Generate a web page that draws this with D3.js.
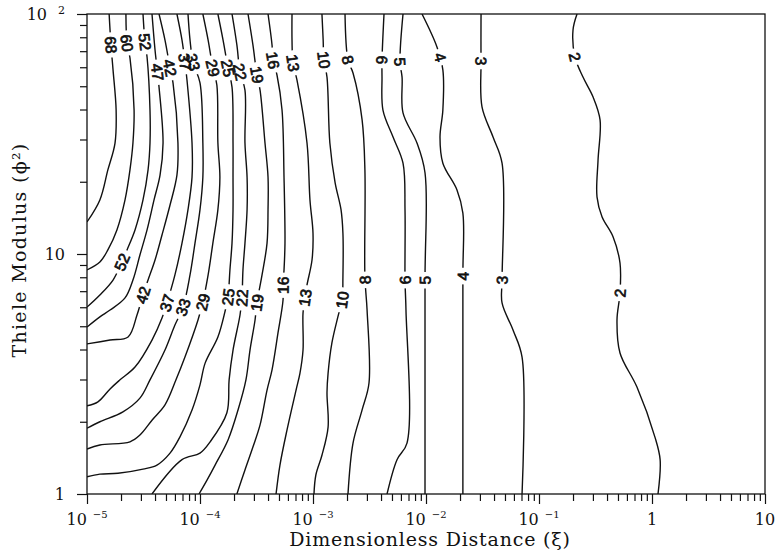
<!DOCTYPE html>
<html>
<head>
<meta charset="utf-8">
<script src="https://cdn.jsdelivr.net/npm/d3@7"></script>
<style>
  body { margin: 0; background: #fff; }
  svg { display: block; }
  .tick line { stroke: #111; stroke-width: 1.2; }
  .domain { display: none; }
  .tick-label { font-family: "DejaVu Serif", serif; font-size: 16px; fill: #111; }
  .axis-title { font-family: "DejaVu Serif", serif; font-size: 19px; fill: #111; }
  .contour { fill: none; stroke: #111; stroke-width: 1.4; }
  .clabel { font-family: "Liberation Sans", Arial, sans-serif; font-size: 15.5px; fill: #111; stroke: #111; stroke-width: 0.7; }
</style>
</head>
<body>
<svg id="chart" width="776" height="554"></svg>
<script>
// contour levels, top-left to right
const levels = [68, 60, 52, 47, 42, 37, 33, 29, 25, 22, 19, 16, 13, 10, 8, 6, 5, 4, 3, 2];

// each contour: [xi, phi^2] points, from top edge downwards
const contours = [
  [[1.57e-5,100],[1.63e-5,74.3],[1.70e-5,58.5],[1.81e-5,39.8],[1.77e-5,29.0],[1.53e-5,22.4],[1.30e-5,16.8],[1e-5,13.6]],
  [[2.21e-5,100],[2.26e-5,75.7],[2.40e-5,65.6],[2.61e-5,39.8],[2.55e-5,29.0],[2.40e-5,22.4],[2.17e-5,16.8],[1.84e-5,12.6],[1.53e-5,10.4],[1.30e-5,9.26],[1e-5,8.58]],
  [[3.13e-5,100],[3.26e-5,76.4],[3.40e-5,66.2],[3.61e-5,39.8],[3.61e-5,29.0],[3.47e-5,22.4],[3.13e-5,16.8],[2.66e-5,12.6],[2.26e-5,10.4],[2.04e-5,9.26],[1.70e-5,7.79],[1.30e-5,6.75],[1e-5,6.01]],
  [[3.76e-5,100],[4.0e-5,70.8],[4.34e-5,49.6],[4.71e-5,29.0],[4.43e-5,21.3],[3.92e-5,16.8],[3.40e-5,12.6],[2.94e-5,9.9],[2.55e-5,7.79],[2.17e-5,6.56],[1.60e-5,5.84],[1.30e-5,5.47],[1e-5,4.96]],
  [[4.34e-5,100],[4.90e-5,77.9],[5.43e-5,59.6],[5.77e-5,51.6],[6.38e-5,29.0],[6.25e-5,21.3],[5.43e-5,16.0],[4.61e-5,12.0],[4.0e-5,9.44],[3.47e-5,7.79],[3.13e-5,6.75],[2.77e-5,5.57],[2.31e-5,4.51],[1.60e-5,4.38],[1e-5,4.22]],
  [[6.25e-5,100],[6.93e-5,77.9],[7.36e-5,63.1],[7.67e-5,53.1],[8.50e-5,29.0],[8.50e-5,20.9],[7.83e-5,15.3],[6.93e-5,11.1],[6.0e-5,8.18],[5.10e-5,6.25],[4.61e-5,5.41],[3.76e-5,4.38],[2.66e-5,3.38],[1.96e-5,2.99],[1.60e-5,2.74],[1.25e-5,2.42],[1e-5,2.33]],
  [[7.83e-5,100],[8.16e-5,77.9],[8.67e-5,63.1],[1.0e-4,51.6],[1.06e-4,29.0],[1.06e-4,20.9],[1.0e-4,15.3],[9.03e-5,11.1],[8.16e-5,8.18],[7.08e-5,6.01],[6.0e-5,5.06],[4.90e-5,3.98],[3.61e-5,2.99],[2.94e-5,2.51],[2.08e-5,2.20],[1.30e-5,2.0],[1e-5,1.88]],
  [[1.06e-4,100],[1.18e-4,77.9],[1.30e-4,59.6],[1.41e-4,50.6],[1.44e-4,29.0],[1.50e-4,20.9],[1.44e-4,15.3],[1.30e-4,11.1],[1.18e-4,8.18],[1.06e-4,6.31],[9.60e-5,5.31],[7.36e-5,3.72],[6.13e-5,2.99],[4.90e-5,2.35],[3.76e-5,2.03],[2.94e-5,1.76],[2.40e-5,1.65],[1.30e-5,1.60],[1e-5,1.54]],
  [[1.44e-4,100],[1.60e-4,77.9],[1.77e-4,59.6],[1.92e-4,49.6],[1.96e-4,29.0],[1.96e-4,20.9],[1.96e-4,15.3],[1.92e-4,11.1],[1.84e-4,8.58],[1.77e-4,6.62],[1.66e-4,5.73],[1.44e-4,4.51],[1.11e-4,3.51],[1.0e-4,2.85],[8.50e-5,2.24],[6.65e-5,1.73],[5.43e-5,1.48],[4.16e-5,1.32],[3.13e-5,1.27],[1.88e-5,1.22],[1.30e-5,1.21],[1e-5,1.18]],
  [[1.92e-4,100],[2.12e-4,74.3],[2.26e-4,57.3],[2.50e-4,48.2],[2.50e-4,29.0],[2.61e-4,20.9],[2.61e-4,15.3],[2.50e-4,11.1],[2.40e-4,8.58],[2.35e-4,6.56],[2.26e-4,5.57],[1.96e-4,3.98],[1.81e-4,2.99],[1.73e-4,2.18],[1.23e-4,1.65],[1.0e-4,1.48],[6.93e-5,1.39],[3.76e-5,1]],
  [[2.66e-4,100],[2.94e-4,74.3],[3.19e-4,55.7],[3.40e-4,48.2],[3.76e-4,29.0],[4.0e-4,20.9],[4.0e-4,15.3],[3.92e-4,11.1],[3.54e-4,8.18],[3.19e-4,6.25],[3.07e-4,5.31],[2.77e-4,3.98],[2.55e-4,2.99],[2.17e-4,2.24],[1.77e-4,1.68],[1.36e-4,1.32],[1.15e-4,1.14],[9.8e-5,1]],
  [[4.0e-4,100],[4.34e-4,74.3],[4.43e-4,64.3],[4.80e-4,55.7],[5.32e-4,39.8],[5.54e-4,20.9],[5.65e-4,11.1],[5.54e-4,8.58],[5.43e-4,7.43],[5.43e-4,6.43],[4.90e-4,4.69],[4.34e-4,3.29],[3.92e-4,2.71],[3.40e-4,1.94],[2.94e-4,1.57],[2.50e-4,1.26],[2.12e-4,1]],
  [[6.52e-4,100],[6.52e-4,77.9],[6.65e-4,62.5],[7.21e-4,53.1],[8.85e-4,29.0],[9.40e-4,16.8],[1.0e-3,12.2],[9.80e-4,9.44],[8.85e-4,7.43],[8.50e-4,6.56],[8.16e-4,5.68],[8.16e-4,3.98],[7.67e-4,3.19],[7.08e-4,2.71],[5.89e-4,1.85],[5.10e-4,1.32],[4.71e-4,1]],
  [[1.20e-3,100],[1.23e-3,77.9],[1.25e-3,64.3],[1.33e-3,54.6],[1.41e-3,29.0],[1.57e-3,19.8],[1.77e-3,15.3],[1.84e-3,12.2],[1.84e-3,8.02],[1.81e-3,6.43],[1.66e-3,5.47],[1.47e-3,4.26],[1.36e-3,3.19],[1.33e-3,2.64],[1.36e-3,1.90],[1.20e-3,1.45],[1.06e-3,1.20],[1.02e-3,1]],
  [[1.92e-3,100],[2.04e-3,64.3],[2.26e-3,56.8],[2.72e-3,36.2],[2.88e-3,22.4],[2.88e-3,8.02],[3.01e-3,5.84],[3.13e-3,2.90],[2.72e-3,2.24],[2.26e-3,1.63],[2.04e-3,1]],
  [[4.25e-3,100],[4.08e-3,64.3],[4.08e-3,54.6],[4.16e-3,39.8],[5.11e-3,30.7],[6.26e-3,23.9],[6.52e-3,15.3],[6.52e-3,7.79],[6.65e-3,5.84],[6.79e-3,1.63],[5.54e-3,1.39],[4.52e-3,1]],
  [[6.26e-3,100],[5.89e-3,63.1],[6.14e-3,54.6],[6.26e-3,38.7],[8.32e-3,29.0],[9.80e-3,21.8],[9.80e-3,7.79],[9.80e-3,1]],
  [[9.22e-3,100],[1.25e-2,72.9],[1.41e-2,58.5],[1.41e-2,39.8],[1.33e-2,30.7],[1.41e-2,23.9],[1.88e-2,18.5],[2.12e-2,14.8],[2.12e-2,8.10],[2.12e-2,1]],
  [[3.07e-2,100],[3.07e-2,63.7],[3.13e-2,41.0],[3.92e-2,30.7],[4.71e-2,23.9],[4.71e-2,7.79],[4.71e-2,6.25],[5.89e-2,4.82],[7.08e-2,3.72],[7.08e-2,1]],
  [[0.217,100],[0.200,85.8],[0.208,66.2],[0.245,54.6],[0.301,45.1],[0.347,36.2],[0.333,24.6],[0.326,17.3],[0.361,14.3],[0.452,11.8],[0.521,9.17],[0.521,6.88],[0.490,5.31],[0.521,3.87],[0.736,2.79],[1.06,1.73],[1.18,1.39],[1.13,1]]
];

// phi^2 at which each contour carries its label (upper row reads down, lower row reads up)
const upperLabelAt = [74.3, 75.7, 76.4, 57.3, 59.6, 63.1, 63.1, 59.6, 59.6, 57.3, 55.7, 64.3, 62.5, 64.3, 64.3, 64.3, 63.1, 66.2, 63.7, 66.2];
const lowerLabelAt = [null, null, 9.26, null, 6.75, 6.25, 6.01, 6.31, 6.62, 6.56, 6.25, 7.43, 6.56, 6.43, 7.79, 7.79, 7.79, 8.10, 7.79, 6.88];

const xMajor = [1e-5, 1e-4, 1e-3, 1e-2, 1e-1, 1, 10];
const xTickLabels = [["10", "\u22125"], ["10", "\u22124"], ["10", "\u22123"], ["10", "\u22122"], ["10", "\u22121"], ["1", ""], ["10", ""]];
const yMajor = [1, 10, 100];
const yTickLabels = [["1", ""], ["10", ""], ["10", "2"]];

const margin = {top: 14, right: 11, bottom: 60, left: 87};
const width = 776 - margin.left - margin.right;
const height = 554 - margin.top - margin.bottom;

const svg = d3.select("#chart");
const defs = svg.append("defs");
const g = svg.append("g").attr("transform", `translate(${margin.left},${margin.top})`);

const x = d3.scaleLog().domain([1e-5, 10]).range([0, width]);
const y = d3.scaleLog().domain([1, 100]).range([height, 0]);

const isPow10 = v => Math.abs(Math.log10(v) - Math.round(Math.log10(v))) < 1e-9;

// ticks: minor short, major long
g.append("g").attr("transform", `translate(0,${height})`)
  .call(d3.axisBottom(x).tickValues(x.ticks().filter(v => !isPow10(v))).tickSize(7).tickSizeOuter(0).tickFormat(""));
g.append("g").attr("transform", `translate(0,${height})`)
  .call(d3.axisBottom(x).tickValues(xMajor).tickSize(10).tickSizeOuter(0).tickFormat(""));
g.append("g")
  .call(d3.axisLeft(y).tickValues(y.ticks().filter(v => !isPow10(v))).tickSize(7).tickSizeOuter(0).tickFormat(""));
g.append("g")
  .call(d3.axisLeft(y).tickValues(yMajor).tickSize(10).tickSizeOuter(0).tickFormat(""));

// tick labels with raised exponents
xMajor.forEach((v, i) => {
  const t = g.append("text").attr("class", "tick-label")
    .attr("x", x(v)).attr("y", height + 31).attr("text-anchor", "middle");
  t.append("tspan").text(xTickLabels[i][0]);
  if (xTickLabels[i][1]) {
    t.append("tspan").attr("dx", 6).attr("dy", -7).attr("font-size", 10).text(xTickLabels[i][1]);
  }
});
yMajor.forEach((v, i) => {
  const t = g.append("text").attr("class", "tick-label")
    .attr("x", -22).attr("y", y(v) + 6).attr("text-anchor", "end");
  t.append("tspan").text(yTickLabels[i][0]);
  if (yTickLabels[i][1]) {
    t.append("tspan").attr("dx", 11).attr("dy", -6).attr("font-size", 11).text(yTickLabels[i][1]);
  }
});

// frame
g.append("rect").attr("width", width).attr("height", height)
  .attr("fill", "none").attr("stroke", "#111").attr("stroke-width", 1.3);

// axis titles
svg.append("text").attr("class", "axis-title")
  .attr("x", 430).attr("y", 546).attr("text-anchor", "middle")
  .attr("letter-spacing", 0.8)
  .text("Dimensionless Distance (\u03BE)");
svg.append("text").attr("class", "axis-title")
  .attr("transform", `translate(26,250) rotate(-90)`).attr("text-anchor", "middle")
  .attr("letter-spacing", 1.3)
  .text("Thiele Modulus (\u03D5\u00B2)");

// contours
defs.append("clipPath").attr("id", "plot-clip")
  .append("rect").attr("width", width).attr("height", height);
const lineLayer = g.append("g").attr("clip-path", "url(#plot-clip)");
const labelLayer = g.append("g");

const line = d3.line()
  .x(d => x(d[0]))
  .y(d => y(d[1]))
  .curve(d3.curveCatmullRom.alpha(0.5));

contours.forEach((pts, i) => {
  const path = lineLayer.append("path").attr("class", "contour").attr("d", line(pts));
  const node = path.node();
  const total = node.getTotalLength();
  const samples = d3.range(0, total, 0.5).map(l => {
    const p = node.getPointAtLength(l);
    return {l: l, x: p.x, y: p.y};
  });

  const mask = defs.append("mask").attr("id", `gap-${i}`)
    .attr("maskUnits", "userSpaceOnUse")
    .attr("x", -20).attr("y", -20).attr("width", width + 40).attr("height", height + 40);
  mask.append("rect").attr("x", -20).attr("y", -20)
    .attr("width", width + 40).attr("height", height + 40).attr("fill", "white");

  [[upperLabelAt[i], 1], [lowerLabelAt[i], -1]].forEach(([phi, dir]) => {
    if (phi == null) return;
    const ty = y(phi);
    const s = d3.least(samples, d => Math.abs(d.y - ty));
    const a = node.getPointAtLength(Math.max(0, s.l - 6));
    const b = node.getPointAtLength(Math.min(total, s.l + 6));
    let ang = Math.atan2(b.y - a.y, b.x - a.x) * 180 / Math.PI;
    if (dir < 0) ang += 180;
    const tf = `translate(${s.x},${s.y}) rotate(${ang})`;
    const t = labelLayer.append("text").attr("class", "clabel")
      .attr("transform", tf).attr("text-anchor", "middle").attr("dy", "0.36em")
      .text(levels[i]);
    const w = t.node().getComputedTextLength() + 8;
    mask.append("rect").attr("transform", tf)
      .attr("x", -w / 2).attr("y", -8).attr("width", w).attr("height", 16).attr("fill", "black");
  });

  path.attr("mask", `url(#gap-${i})`);
});
</script>
</body>
</html>
